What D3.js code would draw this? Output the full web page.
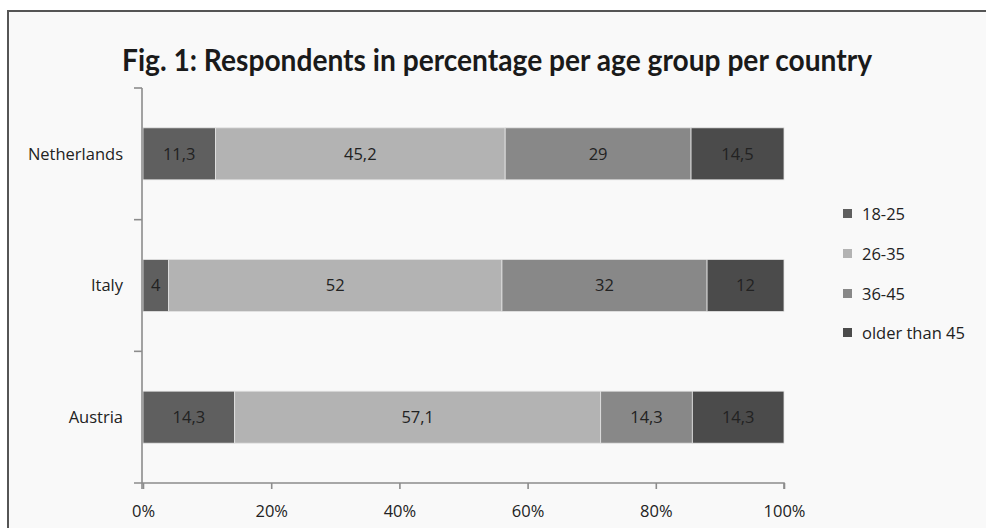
<!DOCTYPE html>
<html>
<head>
<meta charset="utf-8">
<script src="https://cdn.jsdelivr.net/npm/d3@7"></script>
<style>
  html, body { margin: 0; padding: 0; background: #ffffff; }
  svg { display: block; }
  text { font-family: "Open Sans", Lato, sans-serif; fill: #222222; }
</style>
</head>
<body>
<div id="container"></div>
<script>
// chart data
var countries = ["Netherlands", "Italy", "Austria"];
var ageGroups = ["18-25", "26-35", "36-45", "older than 45"];
var groupColors = ["#5f5f5f", "#b3b3b3", "#888888", "#4b4b4b"];
var values18to25 = [11.3, 4, 14.3];
var values26to35 = [45.2, 52, 57.1];
var values36to45 = [29, 32, 14.3];
var valuesOver45 = [14.5, 12, 14.3];
var xTicks = [0, 0.2, 0.4, 0.6, 0.8, 1];

var width = 986, height = 528;
var margin = {top: 88, left: 142, right: 201, bottom: 45};
var labelSize = "16.5px";

var svg = d3.select("#container").append("svg")
    .attr("width", width)
    .attr("height", height);

// chart area frame
svg.append("rect")
    .attr("x", 8).attr("y", 11)
    .attr("width", width).attr("height", height)
    .style("fill", "#f9f9f9")
    .style("stroke", "#555")
    .style("stroke-width", 2);

svg.append("text")
    .attr("x", 497).attr("y", 71)
    .attr("text-anchor", "middle")
    .style("font-family", "Lato, sans-serif")
    .style("font-size", "30px")
    .style("font-weight", "bold")
    .style("fill", "#1a1a1a")
    .attr("textLength", 750)
    .attr("lengthAdjust", "spacingAndGlyphs")
    .text("Fig. 1: Respondents in percentage per age group per country");

var x = d3.scaleLinear().domain([0, 1]).range([margin.left + 1, 784]);
var y = d3.scaleBand().domain(countries).range([margin.top, 483]).padding(0);

var series = [values18to25, values26to35, values36to45, valuesOver45];
var rows = countries.map(function(c, i) {
    var row = {country: c};
    ageGroups.forEach(function(g, j) { row[g] = series[j][i]; });
    return row;
});
var stacked = d3.stack().keys(ageGroups)
    .offset(d3.stackOffsetExpand)(rows);

var barH = y.bandwidth() * 0.395;
var g = svg.append("g");

stacked.forEach(function(layer, j) {
    var grp = g.append("g");
    grp.selectAll("rect").data(layer).enter().append("rect")
        .attr("x", function(d) { return x(d[0]); })
        .attr("y", function(d) { return y(d.data.country) + (y.bandwidth() - barH) / 2; })
        .attr("width", function(d) { return x(d[1]) - x(d[0]); })
        .attr("height", barH)
        .style("fill", groupColors[j])
        .style("stroke", "#e4e4e4")
        .style("stroke-width", 0.8);
    grp.selectAll("text").data(layer).enter().append("text")
        .attr("x", function(d) { return (x(d[0]) + x(d[1])) / 2; })
        .attr("y", function(d) { return y(d.data.country) + y.bandwidth() / 2; })
        .attr("dy", "0.36em")
        .attr("text-anchor", "middle")
        .style("font-size", labelSize)
        .text(function(d) { return String(d.data[ageGroups[j]]).replace(".", ","); });
});

// x axis
var xAxis = svg.append("g")
    .attr("transform", "translate(0,483)")
    .call(d3.axisBottom(x).tickValues(xTicks).tickSize(6).tickPadding(16)
        .tickFormat(d3.format(".0%")));
xAxis.select(".domain").attr("d", "M" + (margin.left - 8) + ",0H784V6").style("stroke", "#8c8c8c").style("stroke-width", 1.6);
xAxis.selectAll(".tick line").style("stroke", "#8c8c8c").style("stroke-width", 1.6);
xAxis.selectAll(".tick text").style("font-size", labelSize).style("fill", "#222")
    .style("font-family", "'Open Sans', Lato, sans-serif");

// y axis with ticks between categories
var yAxis = svg.append("g").attr("transform", "translate(" + margin.left + ",0)");
yAxis.append("line")
    .attr("x1", 0).attr("x2", 0).attr("y1", margin.top).attr("y2", 489)
    .style("stroke", "#8c8c8c").style("stroke-width", 1.6);
var yEdges = countries.map(function(c) { return y(c); });
yAxis.selectAll(".ytick").data(yEdges).enter().append("line")
    .attr("x1", -8).attr("x2", 0)
    .attr("y1", function(d) { return d; }).attr("y2", function(d) { return d; })
    .style("stroke", "#8c8c8c").style("stroke-width", 1.6);
svg.selectAll(".ylabel").data(countries).enter().append("text")
    .attr("x", 123)
    .attr("y", function(d) { return y(d) + y.bandwidth() / 2; })
    .attr("dy", "0.36em")
    .attr("text-anchor", "end")
    .style("font-size", labelSize)
    .text(function(d) { return d; });

// legend
var legend = svg.append("g").attr("transform", "translate(843,0)");
var legY = [214, 254, 294, 333];
ageGroups.forEach(function(name, i) {
    legend.append("rect")
        .attr("x", 0).attr("y", legY[i] - 5)
        .attr("width", 9).attr("height", 9)
        .style("fill", groupColors[i]);
    legend.append("text")
        .attr("x", 19).attr("y", legY[i])
        .attr("dy", "0.36em")
        .style("font-size", labelSize)
        .text(name);
});
</script>
</body>
</html>
